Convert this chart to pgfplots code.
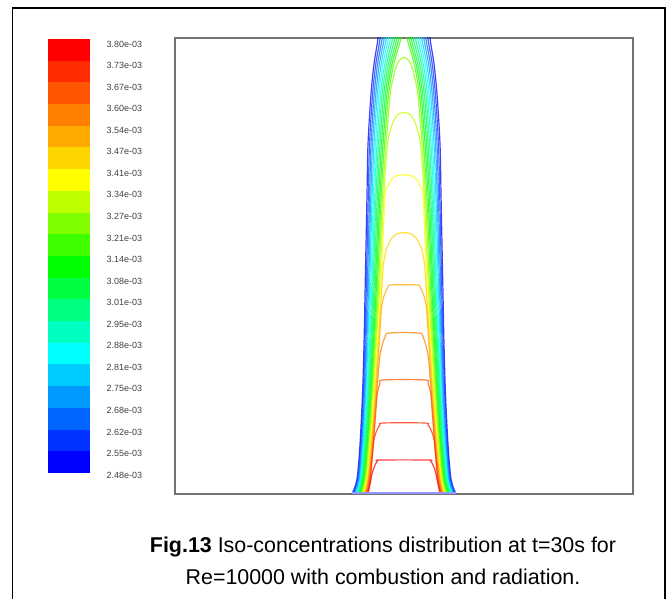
\documentclass[border=0pt]{standalone}
\usepackage{pgfplots}
\pgfplotsset{compat=1.18}
\usepackage{fontspec}
\setmainfont{Liberation Sans}
% colour bar blocks (bottom to top)
\definecolor{cb0}{HTML}{0000FF}\definecolor{cb1}{HTML}{0033FF}\definecolor{cb2}{HTML}{0066FF}
\definecolor{cb3}{HTML}{0099FF}\definecolor{cb4}{HTML}{00CCFF}\definecolor{cb5}{HTML}{00FFFF}
\definecolor{cb6}{HTML}{00FFC0}\definecolor{cb7}{HTML}{00FF80}\definecolor{cb8}{HTML}{00FF40}
\definecolor{cb9}{HTML}{00FF00}\definecolor{cb10}{HTML}{40FF00}\definecolor{cb11}{HTML}{80FF00}
\definecolor{cb12}{HTML}{C0FF00}\definecolor{cb13}{HTML}{FFFF00}\definecolor{cb14}{HTML}{FFD500}
\definecolor{cb15}{HTML}{FFAA00}\definecolor{cb16}{HTML}{FF8000}\definecolor{cb17}{HTML}{FF5500}
\definecolor{cb18}{HTML}{FF2B00}\definecolor{cb19}{HTML}{FF0000}
% contour line colours (level 0 = lowest)
\definecolor{k0}{HTML}{0000FF}\definecolor{k1}{HTML}{0033FF}\definecolor{k2}{HTML}{0066FF}
\definecolor{k3}{HTML}{0099FF}\definecolor{k4}{HTML}{00CCFF}\definecolor{k5}{HTML}{00FFFF}
\definecolor{k6}{HTML}{00FFBF}\definecolor{k7}{HTML}{00FF80}\definecolor{k8}{HTML}{00FF55}
\definecolor{k9}{HTML}{00FF2A}\definecolor{k10}{HTML}{00FF00}\definecolor{k11}{HTML}{40FF00}
\definecolor{k12}{HTML}{88FF00}\definecolor{k13}{HTML}{BFFF00}\definecolor{k14}{HTML}{FFFF00}
\definecolor{k15}{HTML}{FFD400}\definecolor{k16}{HTML}{FFAA00}\definecolor{k17}{HTML}{FF8000}
\definecolor{k18}{HTML}{FF5500}\definecolor{k19}{HTML}{FF2A00}\definecolor{k20}{HTML}{FF0000}
\begin{document}
\begin{tikzpicture}[x=1bp,y=1bp]
\useasboundingbox (0,0) rectangle (671,599);
\draw[line width=1.5bp,black] (12.5,-5) -- (12.5,591) -- (665,591) -- (665,-5);
% ---------------- colour bar ----------------
\begin{axis}[at={(48bp,123.83bp)}, anchor=south west, width=42bp, height=436.17bp, scale only axis,
  xmin=0, xmax=1, ymin=-0.1, ymax=20,
  axis line style={draw=none}, xtick=\empty,
  ytick={-0.09,0.90,1.89,2.89,3.88,4.87,5.87,6.86,7.85,8.85,9.84,10.83,11.83,12.82,13.81,14.81,15.80,16.79,17.78,18.78,19.77},
  yticklabels={2.48e-03,2.55e-03,2.62e-03,2.68e-03,2.75e-03,2.81e-03,2.88e-03,2.95e-03,3.01e-03,3.08e-03,3.14e-03,3.21e-03,3.27e-03,3.34e-03,3.41e-03,3.47e-03,3.54e-03,3.60e-03,3.67e-03,3.73e-03,3.80e-03},
  yticklabel pos=right, major tick length=0pt, clip=false,
  yticklabel style={font=\fontsize{9}{9}\selectfont, text=black!75, anchor=west, inner sep=0pt, xshift=16.5bp}]
\addplot[fill=cb0,draw=none] coordinates {(0,0)(1,0)(1,1.02)(0,1.02)};
\addplot[fill=cb1,draw=none] coordinates {(0,1)(1,1)(1,2.02)(0,2.02)};
\addplot[fill=cb2,draw=none] coordinates {(0,2)(1,2)(1,3.02)(0,3.02)};
\addplot[fill=cb3,draw=none] coordinates {(0,3)(1,3)(1,4.02)(0,4.02)};
\addplot[fill=cb4,draw=none] coordinates {(0,4)(1,4)(1,5.02)(0,5.02)};
\addplot[fill=cb5,draw=none] coordinates {(0,5)(1,5)(1,6.02)(0,6.02)};
\addplot[fill=cb6,draw=none] coordinates {(0,6)(1,6)(1,7.02)(0,7.02)};
\addplot[fill=cb7,draw=none] coordinates {(0,7)(1,7)(1,8.02)(0,8.02)};
\addplot[fill=cb8,draw=none] coordinates {(0,8)(1,8)(1,9.02)(0,9.02)};
\addplot[fill=cb9,draw=none] coordinates {(0,9)(1,9)(1,10.02)(0,10.02)};
\addplot[fill=cb10,draw=none] coordinates {(0,10)(1,10)(1,11.02)(0,11.02)};
\addplot[fill=cb11,draw=none] coordinates {(0,11)(1,11)(1,12.02)(0,12.02)};
\addplot[fill=cb12,draw=none] coordinates {(0,12)(1,12)(1,13.02)(0,13.02)};
\addplot[fill=cb13,draw=none] coordinates {(0,13)(1,13)(1,14.02)(0,14.02)};
\addplot[fill=cb14,draw=none] coordinates {(0,14)(1,14)(1,15.02)(0,15.02)};
\addplot[fill=cb15,draw=none] coordinates {(0,15)(1,15)(1,16.02)(0,16.02)};
\addplot[fill=cb16,draw=none] coordinates {(0,16)(1,16)(1,17.02)(0,17.02)};
\addplot[fill=cb17,draw=none] coordinates {(0,17)(1,17)(1,18.02)(0,18.02)};
\addplot[fill=cb18,draw=none] coordinates {(0,18)(1,18)(1,19.02)(0,19.02)};
\addplot[fill=cb19,draw=none] coordinates {(0,19)(1,19)(1,20)(0,20)};
\end{axis}
% ---------------- contour plot ----------------
\begin{axis}[at={(175bp,105bp)}, anchor=south west, width=458bp, height=456bp, scale only axis,
  xmin=-229, xmax=229, ymin=0, ymax=456, xtick=\empty, ytick=\empty,
  axis line style={draw=black!55, line width=1.5bp},
  every axis plot/.append style={line width=1.2bp, smooth, draw opacity=0.75}]
% lines that leave through the top
\addplot[k0] coordinates {(-52,0)(-47,15)(-44,50)(-41.5,100)(-40,150)(-39,200)(-38,250)(-37,300)(-36,350)(-33,400)(-30,430)(-26,456)(-23,490)(23,490)(26,456)(30,430)(33,400)(36,350)(37,300)(38,250)(39,200)(40,150)(41.5,100)(44,50)(47,15)(52,0)};
\addplot[k1] coordinates {(-51.2,0)(-46.3,15)(-43.3,50)(-40.7,100)(-39.1,150)(-37.9,200)(-36.8,250)(-35.7,300)(-34.5,350)(-31.4,400)(-28.2,430)(-23.9,456)(-21,490)(21,490)(23.9,456)(28.2,430)(31.4,400)(34.5,350)(35.7,300)(36.8,250)(37.9,200)(39.1,150)(40.7,100)(43.3,50)(46.3,15)(51.2,0)};
\addplot[k2] coordinates {(-50.4,0)(-45.6,15)(-42.5,50)(-39.8,100)(-38.1,150)(-36.8,200)(-35.6,250)(-34.4,300)(-33,350)(-29.8,400)(-26.4,430)(-21.8,456)(-18,490)(18,490)(21.8,456)(26.4,430)(29.8,400)(33,350)(34.4,300)(35.6,250)(36.8,200)(38.1,150)(39.8,100)(42.5,50)(45.6,15)(50.4,0)};
\addplot[k3] coordinates {(-49.6,0)(-44.9,15)(-41.8,50)(-39,100)(-37.2,150)(-35.7,200)(-34.4,250)(-33.1,300)(-31.5,350)(-28.2,400)(-24.6,430)(-19.7,456)(-15,490)(15,490)(19.7,456)(24.6,430)(28.2,400)(31.5,350)(33.1,300)(34.4,250)(35.7,200)(37.2,150)(39,100)(41.8,50)(44.9,15)(49.6,0)};
\addplot[k4] coordinates {(-48.8,0)(-44.2,15)(-41,50)(-38.2,100)(-36.2,150)(-34.6,200)(-33.2,250)(-31.8,300)(-30,350)(-26.6,400)(-22.8,430)(-17.6,456)(-12,490)(12,490)(17.6,456)(22.8,430)(26.6,400)(30,350)(31.8,300)(33.2,250)(34.6,200)(36.2,150)(38.2,100)(41,50)(44.2,15)(48.8,0)};
\addplot[k5] coordinates {(-48,0)(-43.5,15)(-40.3,50)(-37.4,100)(-35.3,150)(-33.5,200)(-32,250)(-30.5,300)(-28.5,350)(-25,400)(-21,430)(-15.5,456)(-9,490)(9,490)(15.5,456)(21,430)(25,400)(28.5,350)(30.5,300)(32,250)(33.5,200)(35.3,150)(37.4,100)(40.3,50)(43.5,15)(48,0)};
\addplot[k6] coordinates {(-47.2,0)(-42.8,15)(-39.6,50)(-36.5,100)(-34.3,150)(-32.4,200)(-30.8,250)(-29.2,300)(-27,350)(-23.4,400)(-19.2,430)(-13.4,456)(-7,490)(7,490)(13.4,456)(19.2,430)(23.4,400)(27,350)(29.2,300)(30.8,250)(32.4,200)(34.3,150)(36.5,100)(39.6,50)(42.8,15)(47.2,0)};
\addplot[k7] coordinates {(-46.4,0)(-42.1,15)(-38.8,50)(-35.7,100)(-33.4,150)(-31.3,200)(-29.6,250)(-27.9,300)(-25.5,350)(-21.8,400)(-17.4,430)(-11.3,456)(-5,490)(5,490)(11.3,456)(17.4,430)(21.8,400)(25.5,350)(27.9,300)(29.6,250)(31.3,200)(33.4,150)(35.7,100)(38.8,50)(42.1,15)(46.4,0)};
\addplot[k8] coordinates {(-45.6,0)(-41.4,15)(-38.1,50)(-34.9,100)(-32.4,150)(-30.2,200)(-28.4,250)(-26.6,300)(-24,350)(-20.2,400)(-15.6,430)(-9.2,456)(-3,490)(3,490)(9.2,456)(15.6,430)(20.2,400)(24,350)(26.6,300)(28.4,250)(30.2,200)(32.4,150)(34.9,100)(38.1,50)(41.4,15)(45.6,0)};
\addplot[k9] coordinates {(-44.8,0)(-40.7,15)(-37.3,50)(-34,100)(-31.5,150)(-29.1,200)(-27.2,250)(-25.3,300)(-22.5,350)(-18.6,400)(-13.8,430)(-7.1,456)(-2,490)(2,490)(7.1,456)(13.8,430)(18.6,400)(22.5,350)(25.3,300)(27.2,250)(29.1,200)(31.5,150)(34,100)(37.3,50)(40.7,15)(44.8,0)};
\addplot[k10] coordinates {(-44,0)(-40,15)(-36.6,50)(-33.2,100)(-30.5,150)(-28,200)(-26,250)(-24,300)(-21,350)(-17,400)(-12,430)(-5,456)(-1.5,480)(1.5,480)(5,456)(12,430)(17,400)(21,350)(24,300)(26,250)(28,200)(30.5,150)(33.2,100)(36.6,50)(40,15)(44,0)};
\addplot[k11] coordinates {(-43.2,0)(-39.3,15)(-35.9,50)(-32.4,100)(-29.6,150)(-26.9,200)(-24.8,250)(-22.7,300)(-19.5,350)(-15.4,400)(-10.2,430)(-2.9,456)(-1,470)(1,470)(2.9,456)(10.2,430)(15.4,400)(19.5,350)(22.7,300)(24.8,250)(26.9,200)(29.6,150)(32.4,100)(35.9,50)(39.3,15)(43.2,0)};
% closed domes
\addplot[k12] coordinates {(-42.4,0)(-38.6,15)(-35.1,50)(-31.5,100)(-28.6,150)(-25.8,200)(-23.6,250)(-21.4,300)(-18,350)(-13.8,400)(-11,415)(-8,427)(-5,433)(-2,436)(2,436)(5,433)(8,427)(11,415)(13.8,400)(18,350)(21.4,300)(23.6,250)(25.8,200)(28.6,150)(31.5,100)(35.1,50)(38.6,15)(42.4,0)};
\addplot[k13] coordinates {(-41.6,0)(-37.9,15)(-34.4,50)(-30.7,100)(-27.7,150)(-24.7,200)(-22.4,250)(-20.1,300)(-16.5,350)(-14,362)(-11,372)(-7,378.5)(-3,381)(3,381)(7,378.5)(11,372)(14,362)(16.5,350)(20.1,300)(22.4,250)(24.7,200)(27.7,150)(30.7,100)(34.4,50)(37.9,15)(41.6,0)};
\addplot[k14] coordinates {(-40.8,0)(-37.2,15)(-33.6,50)(-29.9,100)(-26.7,150)(-23.6,200)(-21.2,250)(-18.8,300)(-16,308)(-13,314)(-9,317.5)(-4,319)(4,319)(9,317.5)(13,314)(16,308)(18.8,300)(21.2,250)(23.6,200)(26.7,150)(29.9,100)(33.6,50)(37.2,15)(40.8,0)};
\addplot[k15] coordinates {(-40,0)(-36.5,15)(-32.9,50)(-29,100)(-25.8,150)(-22.5,200)(-20.5,230)(-17.5,245)(-13.5,254)(-9,259)(-4,261)(4,261)(9,259)(13.5,254)(17.5,245)(20.5,230)(22.5,200)(25.8,150)(29,100)(32.9,50)(36.5,15)(40,0)};
\addplot[k16] coordinates {(-39.2,0)(-35.8,15)(-32.2,50)(-28.2,100)(-24.8,150)(-22.5,185)(-20,198)(-16.5,206)(-13,209)(13,209)(16.5,206)(20,198)(22.5,185)(24.8,150)(28.2,100)(32.2,50)(35.8,15)(39.2,0)};
\addplot[k17] coordinates {(-38.4,0)(-35.1,15)(-31.4,50)(-27.4,100)(-24.5,135)(-22,148)(-19,157)(-15,161)(15,161)(19,157)(22,148)(24.5,135)(27.4,100)(31.4,50)(35.1,15)(38.4,0)};
\addplot[k18] coordinates {(-37.6,0)(-34.4,15)(-30.7,50)(-28,85)(-26.5,102)(-24,110)(-21,114)(21,114)(24,110)(26.5,102)(28,85)(30.7,50)(34.4,15)(37.6,0)};
\addplot[k19] coordinates {(-36.8,0)(-33.7,15)(-31.5,40)(-30,55)(-27,64)(-24,69)(-21,71)(21,71)(24,69)(27,64)(30,55)(31.5,40)(33.7,15)(36.8,0)};
\addplot[k20] coordinates {(-36,0)(-33.5,12)(-31.5,22)(-29,29)(-26.5,33)(-24,34)(24,34)(26.5,33)(29,29)(31.5,22)(33.5,12)(36,0)};
% inlet line
\addplot[color={rgb,255:red,150;green,150;blue,255}, line width=2bp, sharp plot, draw opacity=1] coordinates {(-52,0.8)(52,0.8)};
\end{axis}
% ---------------- caption ----------------
\node[anchor=base, font=\fontsize{21.5}{24}\selectfont] at (383,46) {\textbf{Fig.13} Iso-concentrations distribution at t=30s for};
\node[anchor=base, font=\fontsize{21.5}{24}\selectfont] at (383,14) {Re=10000 with combustion and radiation.};
\end{tikzpicture}
\end{document}
